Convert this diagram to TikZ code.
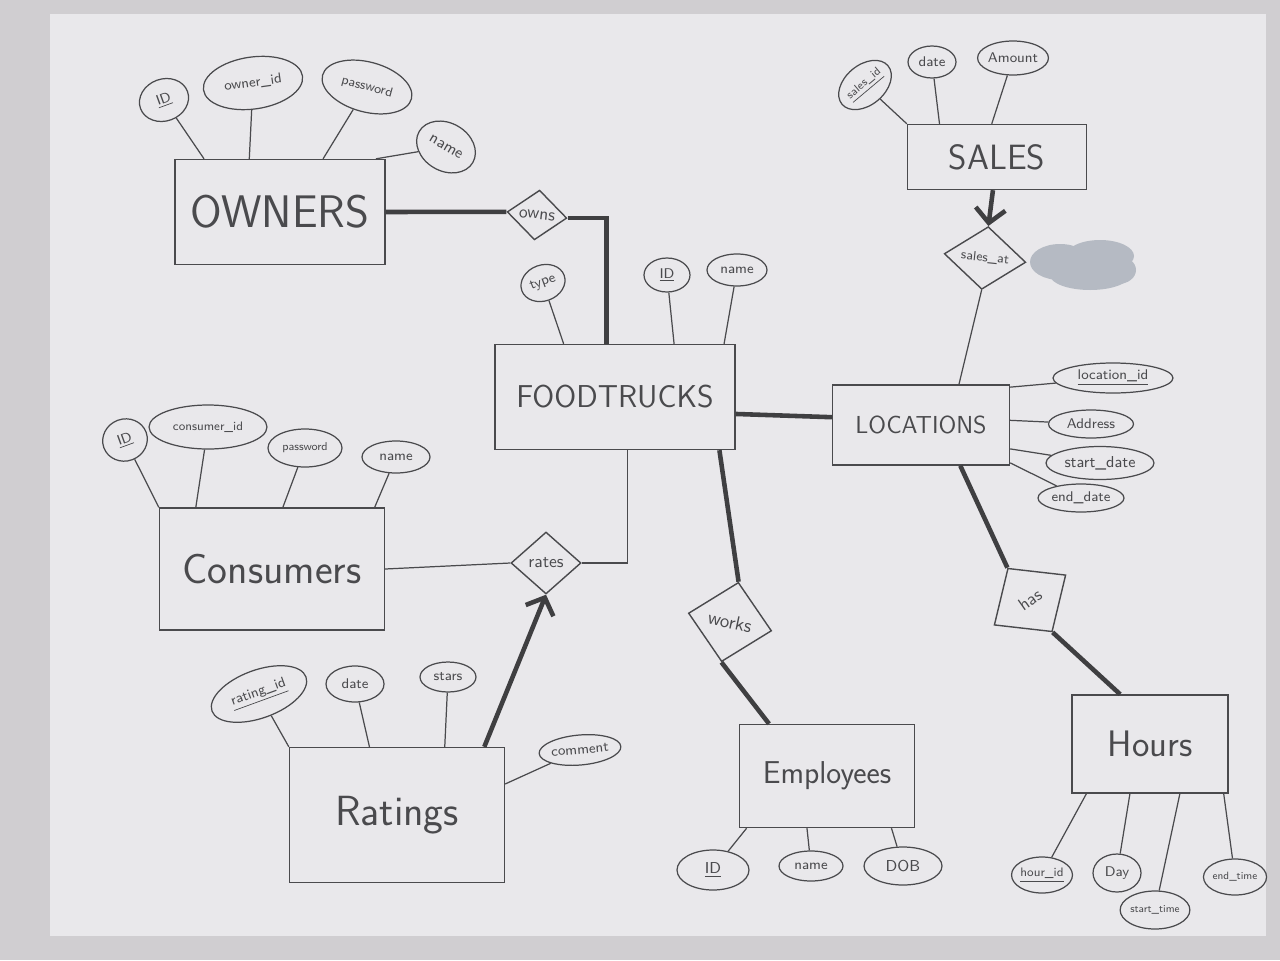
\documentclass[tikz,border=0pt]{standalone}
\usetikzlibrary{shapes.geometric,arrows.meta}
\definecolor{papel}{HTML}{E9E8EB}
\definecolor{fondo}{HTML}{D0CED1}
\definecolor{lapiz}{HTML}{4A4A4D}
\definecolor{mancha}{HTML}{B5BAC3}
\newcommand{\fs}[1]{\fontsize{#1}{#1}\selectfont}
\begin{document}
\begin{tikzpicture}[x=0.02cm,y=-0.02cm,>={Straight Barb[length=8pt,width=17pt]},
  entity/.style={draw=lapiz,line width=0.8pt,rectangle,inner sep=0pt,text=lapiz,font=\sffamily},
  attr/.style={draw=lapiz,line width=0.7pt,ellipse,inner sep=0pt,text=lapiz,font=\sffamily\fs{8}},
  rel/.style={draw=lapiz,line width=0.8pt,diamond,inner sep=0.5pt,text=lapiz,font=\sffamily\fs{10}},
  link/.style={draw=lapiz,line width=0.7pt},
  conn/.style={draw=lapiz!85!black,line width=2.6pt}]
            % Hoja
            \fill[fondo] (0,0) rectangle (1280,960);
            \fill[papel] (50,14) rectangle (1266,936);
            \useasboundingbox (0,0) rectangle (1280,960);
            \fill[mancha] (1060,262) ellipse (30 and 18);
            \fill[mancha] (1100,256) ellipse (34 and 16);
            \fill[mancha] (1090,275) ellipse (40 and 15);
            \fill[mancha] (1118,270) ellipse (18 and 14);

            % Entidades
            \node[entity,minimum width=4.2cm,minimum height=2.1cm,font=\sffamily\fs{26}] (owners) at (280,212) {OWNERS};
            \node[entity,minimum width=4.8cm,minimum height=2.1cm,font=\sffamily\fs{18}] (foodtrucks) at (615,397) {FOODTRUCKS};
            \node[entity,minimum width=3.54cm,minimum height=1.6cm,font=\sffamily\fs{14}] (locations) at (921,425) {LOCATIONS};
            \node[entity,minimum width=3.58cm,minimum height=1.3cm,font=\sffamily\fs{20}] (sales) at (997,157) {SALES};
            \node[entity,minimum width=4.5cm,minimum height=2.44cm,font=\sffamily\fs{24}] (consumers) at (272,569) {Consumers};
            \node[entity,minimum width=4.3cm,minimum height=2.7cm,font=\sffamily\fs{24}] (ratings) at (397,815) {Ratings};
            \node[entity,minimum width=3.5cm,minimum height=2.06cm,font=\sffamily\fs{18}] (employees) at (827,776) {Employees};
            \node[entity,minimum width=3.12cm,minimum height=1.96cm,font=\sffamily\fs{21}] (hours) at (1150,744) {Hours};

            % Relaciones
            \node[rel,minimum width=1.2cm,minimum height=1.0cm,rotate=-6] (owns) at (537,215) {owns};
            \node[rel,minimum width=1.4cm,minimum height=1.24cm] (rates) at (546,563) {rates};
            \node[rel,minimum width=1.7cm,minimum height=1.62cm,rotate=-12,font=\sffamily\fs{11}] (works) at (730,622) {works};
            \node[rel,minimum width=1.64cm,minimum height=1.2cm,rotate=-6,font=\sffamily\fs{7.5}] (salesat) at (985,258) {sales\_at};
            \node[rel,minimum width=1.75cm,minimum height=1.55cm,rotate=35] (has) at (1030,600) {has};

            % Atributos
            \node[attr,minimum width=1.0cm,minimum height=0.84cm,rotate=20] (ownID) at (164,100) {\underline{ID}};
            \node[attr,minimum width=2.0cm,minimum height=1.04cm,rotate=8] (ownOwnerid) at (253,83) {owner\_id};
            \node[attr,minimum width=1.84cm,minimum height=1.0cm,rotate=-15,font=\sffamily\fs{7.5}] (ownPassword) at (367,87) {password};
            \node[attr,minimum width=1.24cm,minimum height=0.96cm,rotate=-30,font=\sffamily\fs{9}] (ownName) at (446,147) {name};

            \node[attr,minimum width=0.9cm,minimum height=0.72cm,rotate=20] (ftType) at (543,283) {type};
            \node[attr,minimum width=0.92cm,minimum height=0.68cm] (ftID) at (667,275) {\underline{ID}};
            \node[attr,minimum width=1.2cm,minimum height=0.64cm] (ftName) at (737,270) {name};

            \node[attr,minimum width=1.2cm,minimum height=0.8cm,rotate=40,font=\sffamily\fs{6.5}] (saId) at (865,85) {\underline{sales\_id}};
            \node[attr,minimum width=0.96cm,minimum height=0.64cm] (saDate) at (932,62) {date};
            \node[attr,minimum width=1.28cm,minimum height=0.68cm] (saAmount) at (1013,58) {Amount};

            \node[attr,minimum width=2.4cm,minimum height=0.6cm] (loId) at (1113,378) {\underline{location\_id}};
            \node[attr,minimum width=1.7cm,minimum height=0.56cm] (loAddress) at (1091,424) {Address};
            \node[attr,minimum width=2.16cm,minimum height=0.66cm,font=\sffamily\fs{9}] (loStart) at (1100,463) {start\_date};
            \node[attr,minimum width=1.72cm,minimum height=0.56cm] (loEnd) at (1081,498) {end\_date};

            \node[attr,minimum width=0.9cm,minimum height=0.84cm,rotate=20] (coID) at (125,440) {\underline{ID}};
            \node[attr,minimum width=2.36cm,minimum height=0.88cm,font=\sffamily\fs{7}] (coConsumerid) at (208,427) {consumer\_id};
            \node[attr,minimum width=1.48cm,minimum height=0.76cm,font=\sffamily\fs{6.5}] (coPassword) at (305,448) {password};
            \node[attr,minimum width=1.36cm,minimum height=0.64cm] (coName) at (396,457) {name};

            \node[attr,minimum width=2.0cm,minimum height=0.96cm,rotate=20] (raId) at (259,694) {\underline{rating\_id}};
            \node[attr,minimum width=1.16cm,minimum height=0.72cm] (raDate) at (355,684) {date};
            \node[attr,minimum width=1.12cm,minimum height=0.6cm] (raStars) at (448,677) {stars};
            \node[attr,minimum width=1.64cm,minimum height=0.6cm,rotate=5] (raComment) at (580,750) {comment};

            \node[attr,minimum width=1.44cm,minimum height=0.8cm,font=\sffamily\fs{9}] (emID) at (713,870) {\underline{ID}};
            \node[attr,minimum width=1.28cm,minimum height=0.6cm] (emName) at (811,866) {name};
            \node[attr,minimum width=1.56cm,minimum height=0.76cm,font=\sffamily\fs{9}] (emDOB) at (903,866) {DOB};

            \node[attr,minimum width=1.12cm,minimum height=0.72cm,font=\sffamily\fs{7}] (hoId) at (1042,875) {\underline{hour\_id}};
            \node[attr,minimum width=0.96cm,minimum height=0.76cm] (hoDay) at (1117,873) {Day};
            \node[attr,minimum width=1.12cm,minimum height=0.76cm,font=\sffamily\fs{6}] (hoStart) at (1155,910) {start\_time};
            \node[attr,minimum width=1.16cm,minimum height=0.72cm,font=\sffamily\fs{6}] (hoEnd) at (1235,877) {end\_time};

            % Conexiones
            \draw[conn] (owners.east) -- (owns.west);
            \draw[conn] (owns.east) -| (foodtrucks.99);
            \draw[conn] (foodtrucks.-8) -- (locations.175);
            \draw[conn] (foodtrucks.-27) -- (works.north);
            \draw[conn] (works.south) -- (employees.138);
            \draw[conn] (locations.314) -- (has.north);
            \draw[conn] (has.south) -- (hours.121);
            \draw[conn,->] (sales.263) -- (salesat.north);
            \draw[conn,->] (ratings.38) -- (rates.south);
            \draw[link] (salesat.south) -- (locations.47);
            \draw[link] (consumers.east) -- (rates.west);
            \draw[link] (rates.east) -| (foodtrucks.283);

            % Lineas de atributos
            \draw[link] (ownID) -- (owners.145);
            \draw[link] (ownOwnerid) -- (owners.120);
            \draw[link] (ownPassword) -- (owners.51);
            \draw[link] (ownName) -- (owners.29);
            \draw[link] (ftType) -- (foodtrucks.134);
            \draw[link] (ftID) -- (foodtrucks.42);
            \draw[link] (ftName) -- (foodtrucks.26);
            \draw[link] (saId) -- (sales.north west);
            \draw[link] (saDate) -- (sales.150);
            \draw[link] (saAmount) -- (sales.99);
            \draw[link] (loId) -- (locations.23);
            \draw[link] (loAddress) -- (locations.3);
            \draw[link] (loStart) -- (locations.-15);
            \draw[link] (loEnd) -- (locations.-23);
            \draw[link] (coID) -- (consumers.north west);
            \draw[link] (coConsumerid) -- (consumers.141);
            \draw[link] (coPassword) -- (consumers.80);
            \draw[link] (coName) -- (consumers.31);
            \draw[link] (raId) -- (ratings.north west);
            \draw[link] (raDate) -- (ratings.112);
            \draw[link] (raStars) -- (ratings.55);
            \draw[link] (raComment) -- (ratings.16);
            \draw[link] (emID) -- (employees.213);
            \draw[link] (emName) -- (employees.249);
            \draw[link] (emDOB) -- (employees.321);
            \draw[link] (hoId) -- (hours.218);
            \draw[link] (hoDay) -- (hours.248);
            \draw[link] (hoStart) -- (hours.301);
            \draw[link] (hoEnd) -- (hours.326);
\end{tikzpicture}
\end{document}
